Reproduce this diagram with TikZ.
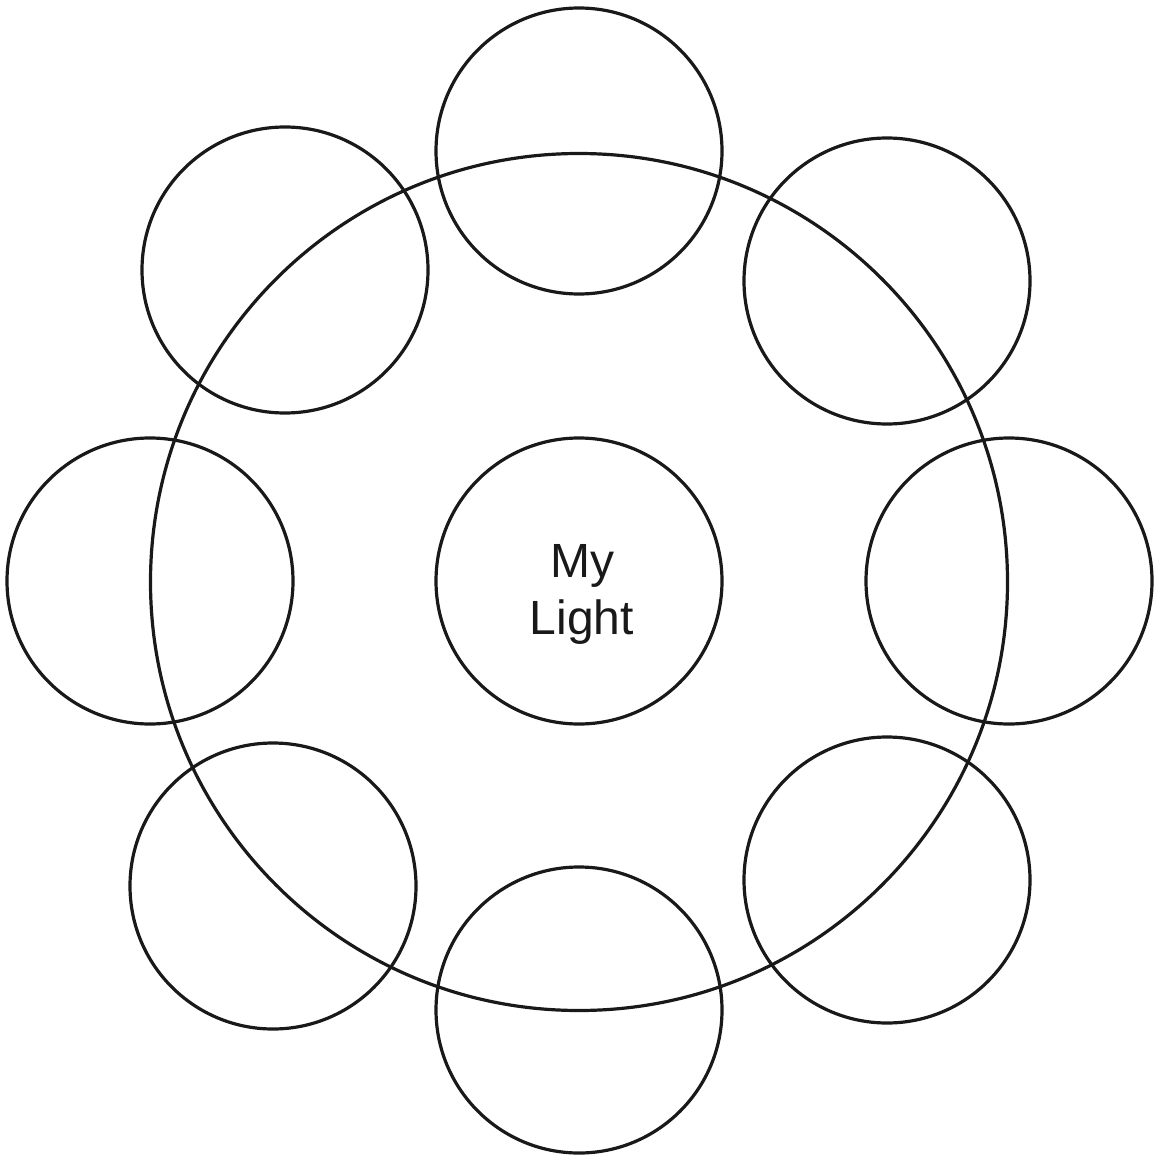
\documentclass[tikz,border=0pt]{standalone}
\usepackage{fontspec}
\setmainfont{Liberation Sans}
\begin{document}
\begin{tikzpicture}[x=1pt,y=-1pt,
  ring/.style={draw=black!90, line width=3.2pt, circle, minimum size=286pt, inner sep=0pt},
  bigring/.style={draw=black!90, line width=3.2pt, circle, minimum size=857pt, inner sep=0pt}]
\useasboundingbox (0,0) rectangle (1156,1158);
\node[bigring] (outer) at (579,582) {};
\node[ring] (center) at (579,581) {};
\node[align=center, font=\fontsize{48}{57}\selectfont, text=black!90, inner sep=0pt] (title) at (582,594) {My\\Light};
\node[ring] (s1) at (579,151) {};
\node[ring] (s2) at (887,281) {};
\node[ring] (s3) at (1009,581) {};
\node[ring] (s4) at (887,880) {};
\node[ring] (s5) at (579,1010) {};
\node[ring] (s6) at (273,886) {};
\node[ring] (s7) at (150,581) {};
\node[ring] (s8) at (285,270) {};
\end{tikzpicture}
\end{document}
